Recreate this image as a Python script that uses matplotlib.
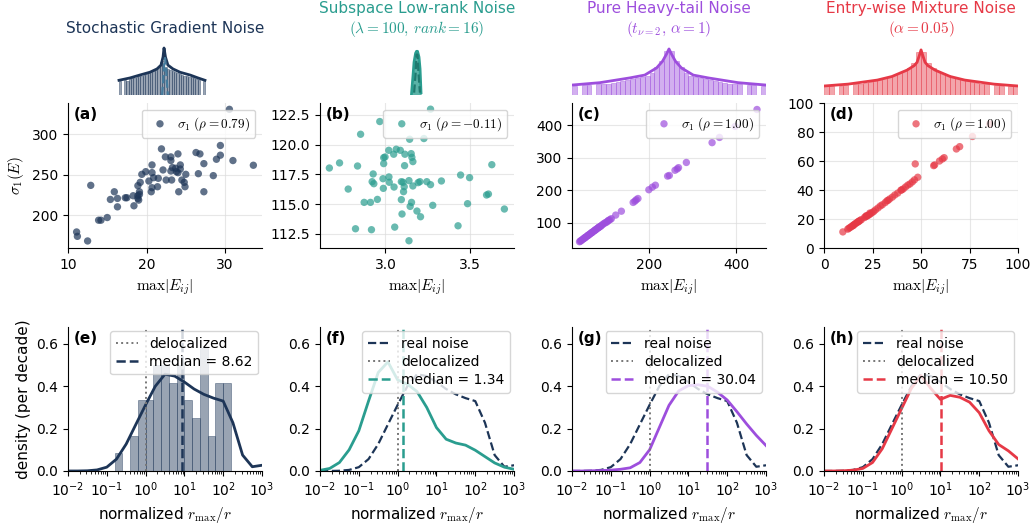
import numpy as np
import matplotlib
matplotlib.use("Agg")
import matplotlib.pyplot as plt

plt.rcParams['mathtext.fontset'] = 'cm'
plt.rcParams['font.size'] = 10

NAVY = "#1d3557"
TEAL = "#2a9d8f"
PURPLE = "#9d4edd"
RED = "#e63946"
GRAY = "#777777"
colors = [NAVY, TEAL, PURPLE, RED]

titles = ["Stochastic Gradient Noise",
          "Subspace Low-rank Noise\n$(\\lambda=100,\\,rank=16)$",
          "Pure Heavy-tail Noise\n$(t_{\\nu=2},\\,\\alpha=1)$",
          "Entry-wise Mixture Noise\n$(\\alpha=0.05)$"]

# ---- top row: entry histograms (log-density level, arbitrary units) ----
a_edges_lo, a_edges_hi = -0.474, 0.412
a_bars = [0.30, 0.0, 0.31, 0.29, 0.33, 0.35, 0.36, 0.38, 0.40, 0.41, 0.43, 0.44,
          0.46, 0.48, 0.50, 0.53, 0.58, 0.70, 0.72, 0.60, 0.55, 0.52, 0.50, 0.48,
          0.46, 0.45, 0.43, 0.41, 0.40, 0.38, 0.37, 0.35, 0.33, 0.31, 0.0, 0.30]
a_cx = [-0.474, -0.36, -0.26, -0.155, -0.082, -0.041, -0.02, -0.01, 0.005, 0.03, 0.082, 0.155, 0.26, 0.34, 0.412]
a_cy = [0.31, 0.36, 0.42, 0.48, 0.55, 0.63, 0.80, 0.99, 0.80, 0.63, 0.55, 0.48, 0.42, 0.36, 0.31]
a_gx = [-0.03, -0.018, -0.01, 0.0, 0.01, 0.018, 0.03]
a_gy = [0.0, 0.30, 0.60, 0.78, 0.60, 0.30, 0.0]

b_edges_lo, b_edges_hi = -0.05, 0.04
b_bars = [0.2, 0.5, 0.75, 0.88, 0.9, 0.85, 0.7, 0.45, 0.15]
b_cx = [-0.057, -0.041, -0.031, -0.015, -0.005, 0.005, 0.02, 0.031, 0.041]
b_cy = [0.02, 0.42, 0.69, 0.88, 0.92, 0.92, 0.80, 0.55, 0.05]
b_gx = [-0.03, -0.015, -0.005, 0.005, 0.015, 0.03]
b_gy = [0.05, 0.45, 0.85, 0.85, 0.45, 0.05]

c_edges_lo, c_edges_hi = -1.0, 1.0
c_bars = [0.20, 0.0, 0.21, 0.22, 0.0, 0.23, 0.24, 0.24, 0.26, 0.27, 0.29, 0.31, 0.33, 0.35,
          0.38, 0.41, 0.47, 0.58, 0.72, 0.92, 0.92, 0.72, 0.58, 0.47, 0.41, 0.38, 0.35, 0.33,
          0.31, 0.29, 0.27, 0.26, 0.24, 0.24, 0.23, 0.0, 0.22, 0.21, 0.0, 0.20]
c_cx = [-1.0, -0.713, -0.405, -0.25, -0.128, -0.067, -0.026, 0.0, 0.026, 0.067, 0.128, 0.25, 0.405, 0.713, 1.0]
c_cy = [0.21, 0.26, 0.36, 0.42, 0.57, 0.71, 0.86, 0.97, 0.86, 0.71, 0.57, 0.42, 0.36, 0.26, 0.21]

d_edges_lo, d_edges_hi = -1.0, 1.0
d_bars = [0.18, 0.19, 0.0, 0.20, 0.21, 0.0, 0.23, 0.24, 0.26, 0.28, 0.30, 0.32, 0.35, 0.38,
          0.42, 0.46, 0.51, 0.57, 0.68, 0.90, 0.90, 0.68, 0.57, 0.51, 0.46, 0.42, 0.38, 0.35,
          0.32, 0.30, 0.28, 0.26, 0.24, 0.23, 0.0, 0.21, 0.20, 0.0, 0.19, 0.18]
d_cx = [-1.0, -0.75, -0.45, -0.3, -0.144, -0.07, -0.041, -0.015, 0.0, 0.015, 0.041, 0.07, 0.144, 0.3, 0.45, 0.75, 1.0]
d_cy = [0.19, 0.23, 0.315, 0.39, 0.525, 0.62, 0.69, 0.85, 0.95, 0.85, 0.69, 0.62, 0.525, 0.39, 0.315, 0.23, 0.19]

top = [(a_edges_lo, a_edges_hi, a_bars, a_cx, a_cy, a_gx, a_gy),
       (b_edges_lo, b_edges_hi, b_bars, b_cx, b_cy, b_gx, b_gy),
       (c_edges_lo, c_edges_hi, c_bars, c_cx, c_cy, None, None),
       (d_edges_lo, d_edges_hi, d_bars, d_cx, d_cy, None, None)]
gauss_colors = ["#457b9d", "#1f7a6f", None, None]

# ---- middle row: sigma_1 vs max|E_ij| ----
sa_x = [30.55, 21.9, 26.3, 26.8, 24.0, 29.4, 29.4, 23.1, 22.4, 23.1, 31.0, 28.9, 27.3, 24.3, 20.7,
        23.3, 23.7, 24.3, 33.6, 22.1, 23.1, 19.9, 20.7, 23.8, 24.0, 19.4, 26.6, 25.0, 28.5, 20.9,
        22.5, 23.2, 24.5, 21.5, 20.3, 19.2, 24.8, 24.9, 21.4, 20.7, 18.9, 20.6, 24.1, 27.3, 12.9,
        15.9, 19.1, 19.1, 18.9, 18.3, 15.4, 16.3, 17.3, 17.5, 19.0, 18.9, 18.4, 16.3, 15.0, 14.2,
        13.9, 11.1, 11.2, 12.5]
sa_y = [330.6, 281.8, 277.3, 275.6, 275.6, 286.0, 274.0, 271.9, 271.9, 267.4, 267.4, 269.0, 263.6, 262.0, 262.0,
        258.7, 257.9, 257.0, 261.6, 255.8, 254.5, 253.7, 252.5, 253.7, 252.5, 250.4, 251.2, 250.4, 248.8, 246.3,
        243.4, 243.4, 243.4, 245.5, 242.1, 240.5, 240.5, 235.1, 235.1, 233.9, 236.4, 228.9, 228.9, 228.9, 236.8,
        228.9, 228.9, 225.6, 224.0, 224.0, 219.4, 220.7, 221.5, 221.5, 218.6, 220.7, 211.6, 210.3, 197.1, 193.8,
        193.8, 179.3, 173.9, 168.2]

sb_x = [3.266, 2.967, 2.854, 3.143, 3.227, 3.020, 3.064, 3.088, 3.049, 3.115, 3.152, 2.990, 2.998, 3.156,
        2.730, 2.670, 2.836, 2.990, 3.113, 3.162, 3.627, 2.928, 3.021, 2.986, 3.443, 3.496, 2.922, 2.932,
        3.023, 3.051, 3.094, 3.104, 3.111, 3.139, 3.193, 3.203, 3.244, 3.266, 3.162, 3.330, 2.988, 2.781,
        3.107, 3.596, 3.607, 2.953, 2.875, 2.912, 3.094, 3.154, 3.146, 3.279, 3.484, 3.701, 3.186, 3.098,
        3.207, 2.824, 2.918, 3.055, 3.428, 3.139]
sb_y = [122.98, 121.94, 120.87, 120.45, 120.51, 119.52, 119.61, 119.52, 119.19, 119.19, 119.24, 118.90, 118.96, 118.93,
        118.46, 118.03, 118.20, 118.40, 118.23, 118.57, 118.31, 117.53, 117.28, 117.13, 117.44, 117.22, 116.88, 116.71,
        116.83, 116.43, 116.88, 116.83, 116.46, 116.97, 116.80, 116.88, 116.88, 116.63, 116.52, 116.94, 116.32, 116.26,
        116.04, 115.76, 115.84, 115.39, 115.14, 115.14, 115.37, 115.14, 114.80, 114.89, 115.03, 114.58, 114.41, 114.16,
        113.93, 112.92, 112.84, 113.06, 113.17, 111.91]

sc_x = [448, 398, 362, 345, 286, 268, 265, 260, 247, 243, 215, 208, 200, 175, 171, 168, 164, 137, 124, 114,
        111, 108, 106, 104, 101, 98, 95, 92, 90, 88, 86, 84, 82, 80, 78, 76, 74, 72, 70, 68, 66, 64, 62, 60,
        58, 56, 54, 52, 50, 48, 46, 44, 43, 41, 53, 61, 69, 77, 85]
sc_y = [449, 397, 363, 347, 286, 270, 266, 262, 246, 244, 216, 210, 202, 175, 171, 167, 163, 136, 124, 113,
        110, 108, 106, 103, 101, 99, 96, 93, 90, 89, 87, 85, 83, 81, 79, 77, 75, 73, 71, 69, 67, 65, 63, 61,
        59, 57, 55, 53, 51, 49, 47, 45, 44, 42, 54, 62, 70, 78, 86]

sd_x = [85.4, 76.5, 69.9, 68.2, 61.9, 61.0, 59.5, 57.0, 56.5, 47.0, 48.3, 46.6, 45.5, 44.3, 43.2, 42.0,
        40.8, 39.6, 38.0, 36.5, 35.2, 33.8, 33.0, 32.4, 30.0, 29.0, 27.8, 26.5, 25.6, 24.8, 24.0, 23.3,
        22.6, 22.0, 21.4, 20.8, 18.6, 18.0, 17.4, 16.9, 16.3, 15.7, 15.2, 14.6, 14.0, 13.4, 12.8, 12.2,
        9.7, 17.8, 21.8, 23.6, 15.0, 19.2, 31.5, 40.0]
sd_y = [85.5, 76.9, 69.9, 68.3, 62.3, 61.4, 60.0, 57.3, 56.8, 58.0, 48.8, 47.0, 45.6, 44.2, 43.4, 42.1,
        40.7, 39.8, 37.9, 36.6, 35.1, 33.8, 32.9, 32.5, 29.8, 29.0, 27.6, 26.3, 25.2, 24.4, 23.7, 23.0,
        22.4, 22.0, 21.6, 21.0, 19.1, 18.5, 18.0, 17.5, 16.9, 16.4, 15.8, 15.2, 14.7, 14.1, 13.6, 13.0,
        11.1, 18.2, 22.3, 24.1, 15.5, 19.5, 31.3, 40.1]

scatter = [(sa_x, sa_y, "0.79"), (sb_x, sb_y, "-0.11"), (sc_x, sc_y, "1.00"), (sd_x, sd_y, "1.00")]
s_xlim = [(10, 34.7), (2.615, 3.758), (23.7, 468.7), (0, 100)]
s_ylim = [(159.5, 338.4), (111.3, 123.5), (22.7, 469), (0, 100)]
s_xticks = [[10, 20, 30], [3.0, 3.5], [200, 400], [0, 25, 50, 75, 100]]
s_yticks = [[200, 250, 300], [112.5, 115.0, 117.5, 120.0, 122.5], [100, 200, 300, 400], [0, 20, 40, 60, 80, 100]]

# ---- bottom row: KDE of normalized r_max/r (per decade), log10 grid ----
log_grid = [-2.0, -1.75, -1.5, -1.25, -1.0, -0.75, -0.5, -0.25, 0.0, 0.25, 0.5,
            0.75, 1.0, 1.25, 1.5, 1.75, 2.0, 2.25, 2.5, 2.75, 3.0]
kde_real = [0.000, 0.000, 0.001, 0.005, 0.018, 0.056, 0.127, 0.220, 0.312, 0.400, 0.457,
            0.448, 0.420, 0.387, 0.362, 0.344, 0.330, 0.228, 0.075, 0.020, 0.027]
kde_lowrank = [0.003, 0.012, 0.040, 0.100, 0.190, 0.330, 0.465, 0.515, 0.430, 0.410, 0.375,
               0.300, 0.205, 0.150, 0.132, 0.122, 0.098, 0.068, 0.038, 0.018, 0.008]
kde_heavy = [0.000, 0.000, 0.001, 0.002, 0.004, 0.008, 0.015, 0.040, 0.100, 0.205, 0.310,
             0.378, 0.403, 0.407, 0.400, 0.372, 0.335, 0.280, 0.222, 0.168, 0.120]
kde_mix = [0.000, 0.000, 0.001, 0.004, 0.012, 0.040, 0.105, 0.200, 0.295, 0.390, 0.450,
           0.390, 0.338, 0.357, 0.348, 0.325, 0.275, 0.190, 0.125, 0.095, 0.057]
medians = [8.62, 1.34, 30.04, 10.50]

# histogram of real noise, bins of 0.2 decade
hist_lo = [-0.8, -0.6, -0.4, -0.2, 0.0, 0.2, 0.4, 0.6, 0.8, 1.0, 1.2, 1.4, 1.6, 1.8, 2.0]
hist_h = [0.083, 0.0, 0.167, 0.333, 0.333, 0.5, 0.5, 0.417, 0.5, 0.333, 0.25, 0.583, 0.167, 0.417, 0.417]
hist_w = 0.2

fig = plt.figure(figsize=(10.36, 5.25), dpi=100)
lefts = [0.0656, 0.3089, 0.5521, 0.7954]
W = 0.1873
letters = "abcdefgh"

for i in range(4):
    col = colors[i]
    # top histogram
    axt = fig.add_axes([lefts[i], 0.819, W, 0.095])
    lo, hi, bars, cx, cy, gx, gy = top[i]
    edges = np.linspace(lo, hi, len(bars) + 1)
    axt.bar(edges[:-1], bars, width=np.diff(edges), align='edge',
            color=col, alpha=0.45, edgecolor=col, linewidth=0.6)
    axt.plot(cx, cy, color=col, lw=2)
    if gx is not None:
        axt.plot(gx, gy, color=gauss_colors[i], lw=1.6, ls='--')
    axt.set_xlim(-1, 1)
    axt.set_ylim(0, 1.05)
    axt.axis('off')
    axt.set_title(titles[i], color=col, fontsize=11, pad=9)

    # scatter
    ax = fig.add_axes([lefts[i], 0.5276, W, 0.2762])
    sx, sy, rho = scatter[i]
    ax.scatter(sx, sy, s=28, color=col, alpha=0.7, edgecolors='none',
               label=r"$\sigma_1\ (\rho=%s)$" % rho)
    ax.set_xlim(*s_xlim[i])
    ax.set_ylim(*s_ylim[i])
    ax.set_xticks(s_xticks[i])
    ax.set_yticks(s_yticks[i])
    ax.grid(True, color='#dddddd', lw=0.8, alpha=0.7)
    ax.set_axisbelow(True)
    for sp in ['top', 'right']:
        ax.spines[sp].set_visible(False)
    ax.set_xlabel(r"$\max|E_{ij}|$", fontsize=11)
    if i == 0:
        ax.set_ylabel(r"$\sigma_1(E)$", fontsize=11)
    ax.legend(loc='upper right', fontsize=9.5, scatterpoints=1, handletextpad=0.3)
    ax.text(0.03, 0.97, "(%s)" % letters[i], transform=ax.transAxes,
            fontsize=11, fontweight='bold', va='top', ha='left')
    ax.tick_params(labelsize=10)

    # bottom density
    axb = fig.add_axes([lefts[i], 0.1029, W, 0.2743])
    xs = 10 ** np.array(log_grid)
    handles = []
    if i == 0:
        hl = np.array(hist_lo)
        axb.bar(10 ** hl, hist_h, width=10 ** (hl + hist_w) - 10 ** hl, align='edge',
                color=NAVY, alpha=0.45, edgecolor=NAVY, linewidth=0.6)
        axb.plot(xs, kde_real, color=NAVY, lw=2)
    else:
        curve = [kde_lowrank, kde_heavy, kde_mix][i - 1]
        h, = axb.plot(xs, kde_real, color=NAVY, lw=1.6, ls='--', label='real noise')
        handles.append(h)
        axb.plot(xs, curve, color=col, lw=2)
    h, = axb.plot([1, 1], [0, 0.68], color=GRAY, lw=1.4, ls=':', label='delocalized')
    handles.append(h)
    h, = axb.plot([medians[i], medians[i]], [0, 0.68], color=col, lw=1.8, ls='--',
                  label='median = %.2f' % medians[i])
    handles.append(h)
    axb.set_xscale('log')
    axb.set_xlim(1e-2, 1e3)
    axb.set_ylim(0, 0.68)
    axb.set_yticks([0.0, 0.2, 0.4, 0.6])
    for sp in ['top', 'right']:
        axb.spines[sp].set_visible(False)
    axb.set_xlabel(r"normalized $r_{\max}/r$", fontsize=11)
    if i == 0:
        axb.set_ylabel("density (per decade)", fontsize=11)
    axb.legend(handles=handles, loc='upper right', fontsize=10, handlelength=1.6,
               borderaxespad=0.3, labelspacing=0.3)
    axb.text(0.03, 0.97, "(%s)" % letters[4 + i], transform=axb.transAxes,
             fontsize=11, fontweight='bold', va='top', ha='left')
    axb.tick_params(labelsize=10)

fig.savefig("out.png", dpi=100)
